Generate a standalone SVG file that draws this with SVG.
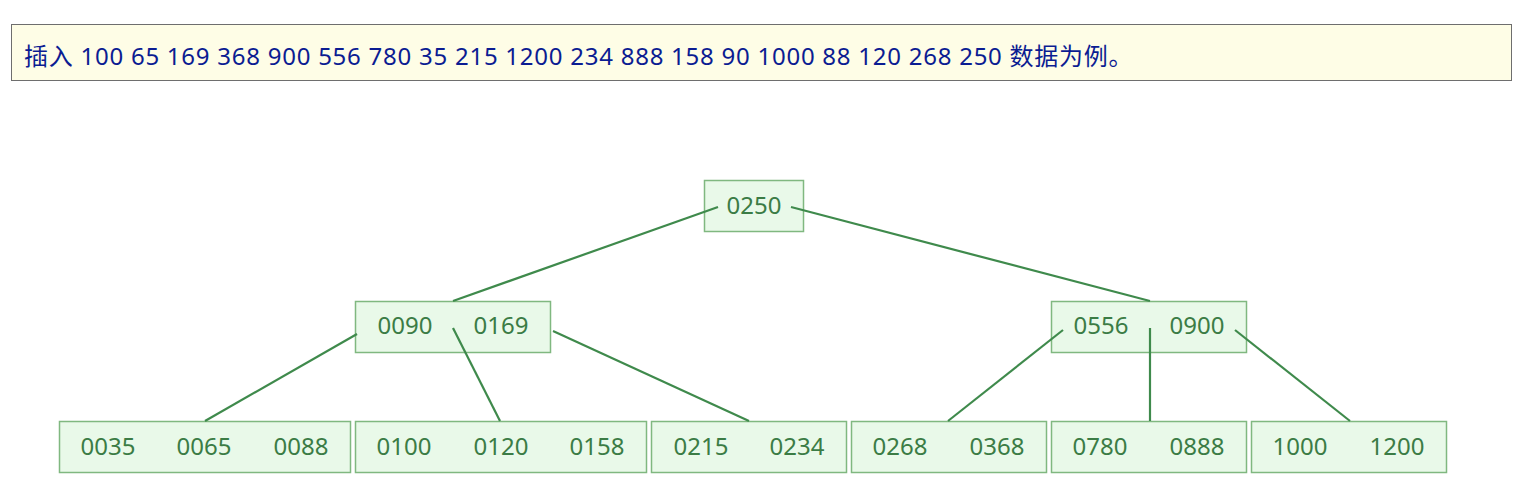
<svg xmlns="http://www.w3.org/2000/svg" width="1533" height="491" viewBox="0 0 1533 491">
<style>
.node rect{fill:#e9f9e9;stroke:#80b880;stroke-width:1.5}
.node text{font-family:"Noto Sans","Open Sans",sans-serif;font-size:24px;fill:#3b7c45;text-anchor:middle}
.conn line{stroke:#3f8a4c;stroke-width:2.2}
.hdr{font-family:"Noto Sans","Noto Sans CJK SC",sans-serif;font-size:24px;letter-spacing:0.75px;fill:#0b1c92}
</style>
<rect width="1533" height="491" fill="#ffffff"/>
<g id="header">
<rect x="11.5" y="24.5" width="1500" height="56" fill="#fefde6" stroke="#6e6e6e" stroke-width="1"/>
<text class="hdr" x="24" y="65">插入 100 65 169 368 900 556 780 35 215 1200 234 888 158 90 1000 88 120 268 250 数据为例。</text>
</g>
<g class="node" id="root"><rect x="704.5" y="180.5" width="99" height="51"/><text x="754" y="214">0250</text></g>
<g class="node" id="mid-left"><rect x="355.5" y="301.5" width="195" height="51"/><text x="405" y="334">0090</text><text x="501" y="334">0169</text></g>
<g class="node" id="mid-right"><rect x="1051.5" y="301.5" width="195" height="51"/><text x="1101" y="334">0556</text><text x="1197" y="334">0900</text></g>
<g class="node" id="leaf1"><rect x="59.5" y="421.5" width="291" height="51"/><text x="108" y="455">0035</text><text x="204" y="455">0065</text><text x="301" y="455">0088</text></g>
<g class="node" id="leaf2"><rect x="355.5" y="421.5" width="291" height="51"/><text x="404" y="455">0100</text><text x="501" y="455">0120</text><text x="597" y="455">0158</text></g>
<g class="node" id="leaf3"><rect x="651.5" y="421.5" width="195" height="51"/><text x="701" y="455">0215</text><text x="797" y="455">0234</text></g>
<g class="node" id="leaf4"><rect x="851.5" y="421.5" width="195" height="51"/><text x="900" y="455">0268</text><text x="997" y="455">0368</text></g>
<g class="node" id="leaf5"><rect x="1051.5" y="421.5" width="195" height="51"/><text x="1100" y="455">0780</text><text x="1197" y="455">0888</text></g>
<g class="node" id="leaf6"><rect x="1251.5" y="421.5" width="195" height="51"/><text x="1300" y="455">1000</text><text x="1397" y="455">1200</text></g>
<g class="conn" id="connectors">
<line x1="718" y1="207" x2="453" y2="301"/>
<line x1="791" y1="207" x2="1150" y2="301"/>
<line x1="357" y1="334" x2="205" y2="421"/>
<line x1="453" y1="328" x2="500" y2="421"/>
<line x1="553" y1="331" x2="749" y2="421"/>
<line x1="1063" y1="330" x2="948" y2="421"/>
<line x1="1150" y1="328" x2="1150" y2="421"/>
<line x1="1235" y1="330" x2="1350" y2="421"/>
</g>
</svg>
